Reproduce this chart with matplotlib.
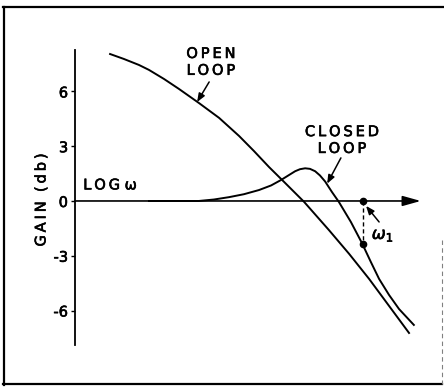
import matplotlib
matplotlib.use("Agg")
import matplotlib.pyplot as plt
import matplotlib.patheffects as pe
from matplotlib.lines import Line2D

plt.rcParams['font.family'] = ['DejaVu Sans']

# values (x is log omega, arbitrary units; y is gain in db)
open_x = [1.02, 1.42, 1.86, 2.15, 2.59, 3.02, 3.60, 4.19, 4.77, 5.20, 5.64, 6.08,
          6.66, 7.38, 7.97, 8.55, 9.13, 9.71]
open_y = [8.05, 7.78, 7.45, 7.18, 6.68, 6.14, 5.37, 4.55, 3.56, 2.74, 1.86, 1.04,
          -0.05, -1.59, -2.90, -4.27, -5.75, -7.23]

closed_x = [2.15, 3.60, 4.04, 4.48, 4.91, 5.35, 5.70, 5.99, 6.22, 6.40, 6.54, 6.69,
            6.83, 6.98, 7.12, 7.27, 7.47, 7.67, 8.02, 8.34, 8.60, 8.84, 9.13, 9.42, 9.85]
closed_y = [0.00, 0.00, 0.08, 0.21, 0.37, 0.60, 0.85, 1.15, 1.42, 1.63, 1.74, 1.79,
            1.76, 1.63, 1.40, 1.07, 0.49, -0.05, -1.15, -2.30, -3.34, -4.27, -5.15,
            -5.92, -6.79]

w1_x = 8.37
w1_gain = -2.36

yticks = [-6, -3, 0, 3, 6]
ytick_labels = ['-6', '-3', '0', '3', '6']

thick = [pe.withStroke(linewidth=0.45, foreground='black')]

fig = plt.figure(figsize=(4.44, 3.87), dpi=100)
ax = fig.add_axes([0.1689, 0.1085, 0.7748, 0.7623])
ax.set_xlim(0, 10)
ax.set_ylim(-7.89, 8.27)

for s in ['top', 'right', 'bottom']:
    ax.spines[s].set_visible(False)
ax.spines['left'].set_linewidth(1.3)
ax.set_xticks([])
ax.set_yticks(yticks)
ax.set_yticklabels(ytick_labels)
ax.tick_params(axis='y', direction='out', length=3, width=1, pad=2, labelsize=10.5)
for lab in ax.get_yticklabels():
    lab.set_path_effects(thick)

# x axis with arrow
ax.annotate('', xy=(10.05, 0), xytext=(0, 0), annotation_clip=False,
            arrowprops=dict(arrowstyle='-|>,head_length=1.0,head_width=0.28',
                            mutation_scale=11, lw=1.2, color='black',
                            shrinkA=0, shrinkB=0))

ax.plot(open_x, open_y, color='black', lw=1.4, solid_joinstyle='round')
ax.plot(closed_x, closed_y, color='black', lw=1.4, solid_joinstyle='round')

# omega_1 marker
ax.plot([w1_x, w1_x], [0, w1_gain], color='black', lw=1, ls=(0, (3, 2)))
ax.plot([w1_x, w1_x], [0, w1_gain], 'o', color='black', ms=4.5)

arr = dict(arrowstyle='-|>,head_length=0.5,head_width=0.2', mutation_scale=10,
           lw=1.1, color='black', shrinkA=0, shrinkB=0)
ax.annotate('', xy=(3.55, 5.42), xytext=(3.90, 6.52), arrowprops=arr)
ax.annotate('', xy=(7.33, 0.95), xytext=(7.73, 2.36), arrowprops=arr)
ax.annotate('', xy=(8.46, -0.27), xytext=(8.84, -1.15), arrowprops=arr)

ts = '\u2009'
ax.text(3.95, 7.62, ts.join('OPEN') + '\n' + ts.join('LOOP'), ha='center', va='center',
        fontsize=10.5, linespacing=1.15, path_effects=thick)
ax.text(7.76, 3.34, ts.join('CLOSED') + '\n' + ts.join('LOOP'), ha='center', va='center',
        fontsize=10.5, linespacing=1.15, path_effects=thick)
ax.text(1.02, 0.88, ts.join('LOG') + ' \u03c9', ha='center', va='center', fontsize=10.5,
        path_effects=thick)
ax.text(8.95, -1.86, '$\\omega_1$', ha='center', va='center', fontsize=12,
        path_effects=thick)

fig.text(0.0923, 0.483, ts.join('GAIN') + '  ' + ts.join('(db)'), rotation=90,
         ha='center', va='center', fontsize=10.5, path_effects=thick)

# outer frame
fig.add_artist(Line2D([3 / 444, 1.0], [1 - 6.5 / 387] * 2, color='black', lw=1.6))
fig.add_artist(Line2D([4 / 444] * 2, [1 - 6.5 / 387, 1 - 384.5 / 387], color='black', lw=1.6))
fig.add_artist(Line2D([3 / 444, 442 / 444], [1 - 384 / 387] * 2, color='black', lw=1.6))
fig.add_artist(Line2D([442 / 444] * 2, [1 - 240 / 387, 1 - 384 / 387], color='gray',
                      lw=0.8, ls=(0, (4, 3))))

fig.savefig('out.png', dpi=100)
